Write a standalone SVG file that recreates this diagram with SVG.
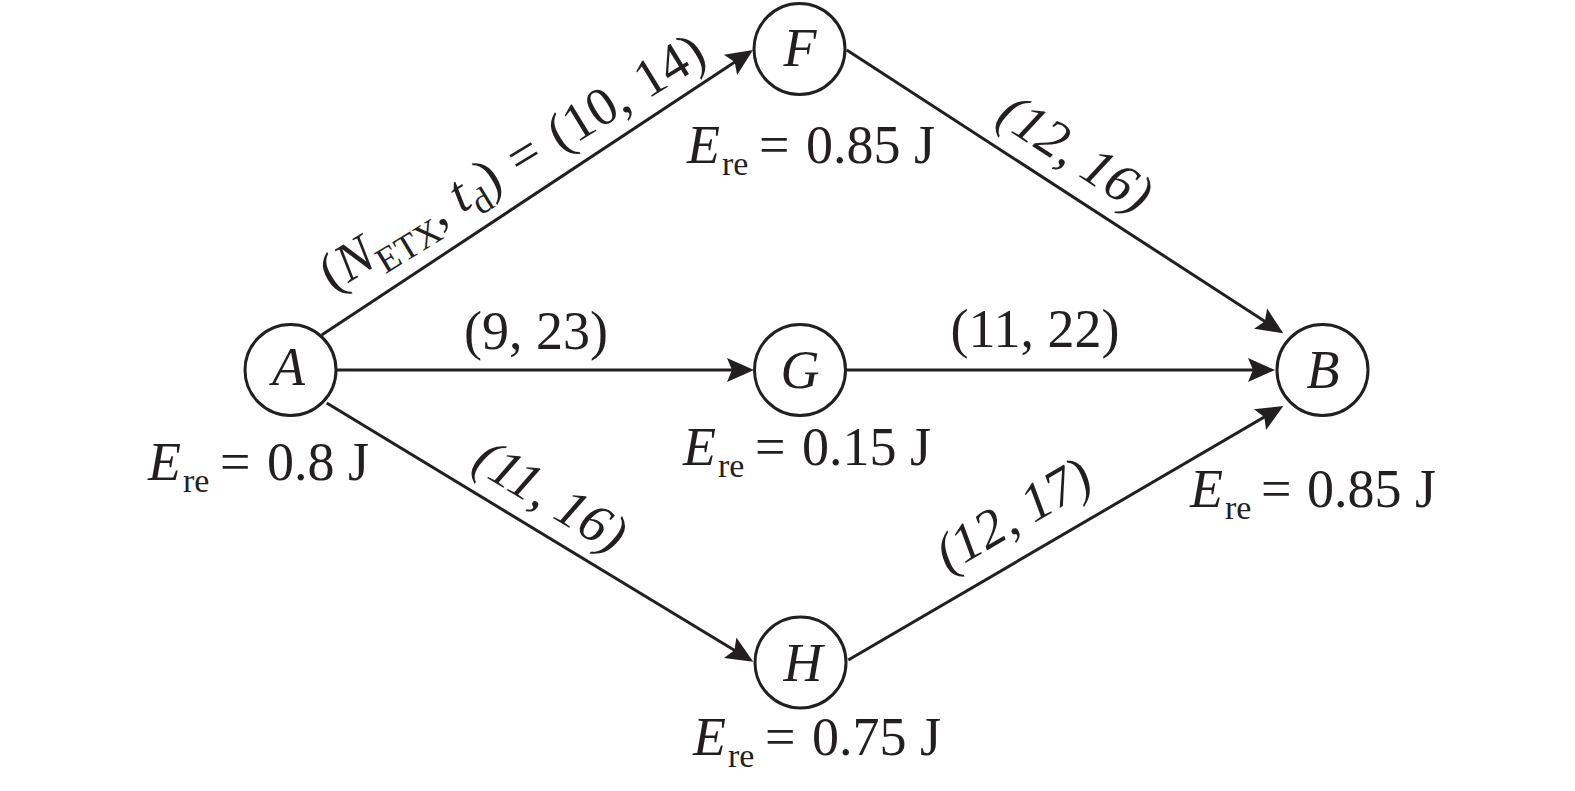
<svg xmlns="http://www.w3.org/2000/svg" width="1575" height="791" viewBox="0 0 1575 791">
  <style>
    text { font-family: "Liberation Serif", "Times New Roman", serif; font-size: 54px; fill: #231f20; }
    .it { font-style: italic; }
    .sub { font-size: 34px; }
    .sub2 { font-size: 36px; }
    .node circle { fill: #ffffff; stroke: #231f20; stroke-width: 3; }
    .edge { stroke: #231f20; stroke-width: 3; fill: none; marker-end: url(#ah); }
  </style>
  <defs>
    <marker id="ah" viewBox="-20 -14 32 28" markerWidth="32" markerHeight="28" refX="0" refY="0" orient="auto" markerUnits="userSpaceOnUse">
      <path d="M10,0 L-17,-12 L-12,0 L-17,12 Z" fill="#231f20"/>
    </marker>
  </defs>
  <rect width="1575" height="791" fill="#ffffff"/>

  <g id="connectors">
    <line class="edge" x1="321.7" y1="335" x2="744.7" y2="55.5"/>
    <line class="edge" x1="337" y1="370" x2="744" y2="370"/>
    <line class="edge" x1="326.7" y1="403" x2="744.7" y2="656.5"/>
    <line class="edge" x1="846.7" y1="50" x2="1274.9" y2="327.9"/>
    <line class="edge" x1="846" y1="370" x2="1265" y2="370"/>
    <line class="edge" x1="848.3" y1="660" x2="1274.7" y2="411"/>
    <text transform="translate(521,177) rotate(-31.5)" text-anchor="middle">(<tspan class="it">N</tspan><tspan class="sub2" dy="12">ETX</tspan><tspan dy="-12">, </tspan><tspan class="it">t</tspan><tspan class="sub2" dy="12">d</tspan><tspan dy="-12">) </tspan><tspan dx="4">= </tspan><tspan dx="4">(10, </tspan><tspan dx="3">14)</tspan></text>
    <text x="536" y="349" text-anchor="middle">(9, 23)</text>
    <text x="1035" y="347" text-anchor="middle">(11, 22)</text>
    <text class="it" transform="translate(1066,168) rotate(32.98)" text-anchor="middle">(12, 16)</text>
    <text class="it" transform="translate(541.4,511) rotate(31.23)" text-anchor="middle">(11, 16)</text>
    <text class="it" transform="translate(1022,530) rotate(-30.28)" text-anchor="middle">(12, 17)</text>
  </g>

  <g id="node-A" class="node">
    <circle cx="290.5" cy="370" r="45.5"/>
    <text class="it" x="288.5" y="385" text-anchor="middle">A</text>
    <text x="148" y="480"><tspan class="it">E</tspan><tspan class="sub" x="183" dy="12">re</tspan><tspan x="220" dy="-12">=</tspan><tspan x="267">0.8 J</tspan></text>
  </g>
  <g id="node-F" class="node">
    <circle cx="799.5" cy="49" r="45.5"/>
    <text class="it" x="800" y="66" text-anchor="middle">F</text>
    <text x="687" y="163"><tspan class="it">E</tspan><tspan class="sub" x="722" dy="12">re</tspan><tspan x="759" dy="-12">=</tspan><tspan x="806">0.85 J</tspan></text>
  </g>
  <g id="node-G" class="node">
    <circle cx="800" cy="370" r="45.5"/>
    <text class="it" x="800" y="388" text-anchor="middle">G</text>
    <text x="683" y="465"><tspan class="it">E</tspan><tspan class="sub" x="718" dy="12">re</tspan><tspan x="755" dy="-12">=</tspan><tspan x="802">0.15 J</tspan></text>
  </g>
  <g id="node-H" class="node">
    <circle cx="800.5" cy="662.5" r="45.5"/>
    <text class="it" x="803" y="681" text-anchor="middle">H</text>
    <text x="693" y="755"><tspan class="it">E</tspan><tspan class="sub" x="728" dy="12">re</tspan><tspan x="765" dy="-12">=</tspan><tspan x="812">0.75 J</tspan></text>
  </g>
  <g id="node-B" class="node">
    <circle cx="1322.5" cy="370" r="45.5"/>
    <text class="it" x="1323" y="388" text-anchor="middle">B</text>
    <text x="1190" y="507"><tspan class="it">E</tspan><tspan class="sub" x="1225" dy="12">re</tspan><tspan x="1261" dy="-12">=</tspan><tspan x="1307">0.85 J</tspan></text>
  </g>
</svg>
